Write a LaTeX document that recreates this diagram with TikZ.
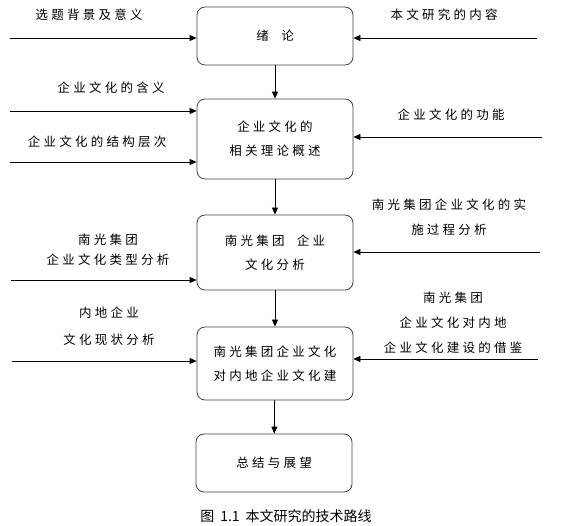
\documentclass[tikz,border=0pt]{standalone}
\usepackage{fontspec}
\setmainfont{Noto Sans CJK SC}[LetterSpace=26]
\newfontfamily\capfont{Noto Sans CJK SC}
\usetikzlibrary{arrows.meta}
\tikzset{
  stagebox/.style={draw=black!75, line width=0.8pt, rounded corners=8pt, minimum width=156pt, align=center, inner sep=0pt, font=\fontsize{12.5}{24}\selectfont},
  lbl/.style={align=center, inner sep=0pt, font=\fontsize{12.5}{25}\selectfont},
  flow/.style={line width=0.8pt, -{Triangle[length=7pt,width=6pt]}}
}
\begin{document}
\begin{tikzpicture}[x=1pt,y=-1pt]
\useasboundingbox (0,0) rectangle (570,526);
% boxes
\node[stagebox, minimum height=58pt] (b1) at (275,36) {绪\quad 论};
\node[stagebox, minimum height=80pt] (b2) at (275,139) {企业文化的\\相关理论概述};
\node[stagebox, minimum height=75pt] (b3) at (275,252.5) {南光集团\ \ 企业\\文化分析};
\node[stagebox, minimum height=73pt] (b4) at (275,363.5) {南光集团企业文化\\对内地企业文化建};
\node[stagebox, minimum height=58pt] (b5) at (274,463) {总结与展望};
% vertical flow
\draw[flow] (b1) -- (b2);
\draw[flow] (b2) -- (b3);
\draw[flow] (b3) -- (b4);
\draw[flow] (b4) -- (b5);
% arrow start points
\coordinate (l1) at (10,38);
\coordinate (r1) at (537,38);
\coordinate (l2a) at (10,111);
\coordinate (l2b) at (10,162);
\coordinate (r2) at (542,137);
\coordinate (l3) at (11,280);
\coordinate (r3) at (540,252);
\coordinate (l4) at (12,361);
\coordinate (r4) at (538,359);
\draw[flow] (l1) -- (l1 -| b1.west);
\draw[flow] (r1) -- (r1 -| b1.east);
\draw[flow] (l2a) -- (l2a -| b2.west);
\draw[flow] (l2b) -- (l2b -| b2.west);
\draw[flow] (r2) -- (r2 -| b2.east);
\draw[flow] (l3) -- (l3 -| b3.west);
\draw[flow] (r3) -- (r3 -| b3.east);
\draw[flow] (l4) -- (l4 -| b4.west);
\draw[flow] (r4) -- (r4 -| b4.east);
% labels
\node[lbl] (t1) at (89,15) {选题背景及意义};
\node[lbl] (t2) at (444,15) {本文研究的内容};
\node[lbl] (t3) at (111,88) {企业文化的含义};
\node[lbl] (t4) at (97,142) {企业文化的结构层次};
\node[lbl] (t5) at (451,115) {企业文化的功能};
\node[lbl] (t6) at (449,217.5) {南光集团企业文化的实\\施过程分析};
\node[lbl, font=\fontsize{12.5}{20}\selectfont] (t7) at (108,250) {南光集团\\企业文化类型分析};
\node[lbl, font=\fontsize{12.5}{27}\selectfont] (t8) at (109,326.5) {内地企业\\文化现状分析};
\node[lbl] (t9) at (453,323) {南光集团\\企业文化对内地\\企业文化建设的借鉴};
% caption
\node[inner sep=0pt, font=\capfont\fontsize{14}{16}\selectfont] (cap) at (286,516) {图\hspace{6pt}1.1\hspace{6pt}本文研究的技术路线};
\end{tikzpicture}
\end{document}
